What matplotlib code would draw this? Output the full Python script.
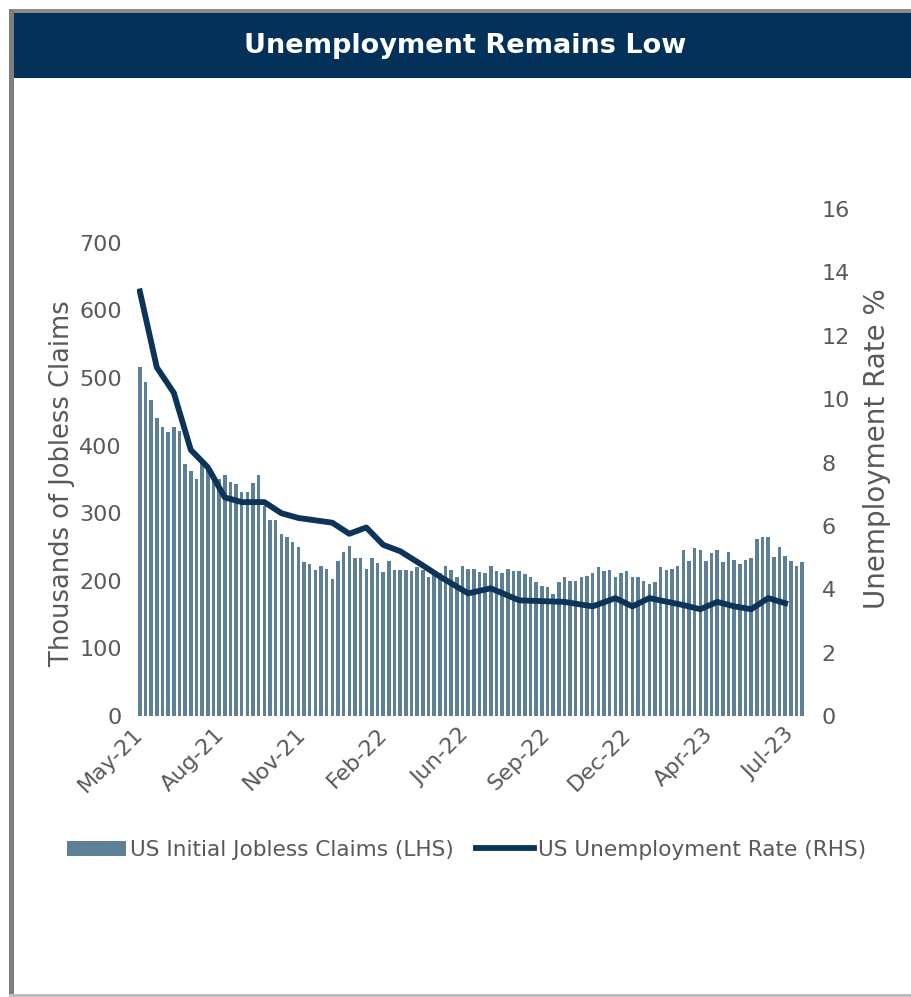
import numpy as np
import matplotlib.pyplot as plt
from matplotlib.patches import Rectangle, Patch
from matplotlib.lines import Line2D

# weekly initial jobless claims (thousands), May-21 .. Jul-23
claims = [517, 494, 468, 441, 428, 420, 428, 422, 373, 362,
          350, 374, 366, 359, 351, 357, 346, 343, 331, 331,
          345, 357, 310, 290, 290, 269, 265, 257, 250, 228,
          225, 216, 222, 218, 202, 229, 243, 251, 233, 233,
          218, 233, 226, 213, 229, 216, 216, 216, 215, 220,
          216, 206, 211, 211, 222, 216, 205, 222, 218, 217,
          213, 212, 222, 215, 212, 218, 215, 215, 210, 206,
          198, 193, 191, 181, 198, 206, 200, 200, 205, 207,
          212, 220, 215, 216, 206, 212, 215, 206, 205, 200,
          195, 198, 220, 216, 217, 222, 246, 230, 248, 246,
          229, 241, 246, 228, 243, 231, 225, 231, 233, 262,
          265, 265, 235, 250, 236, 230, 222, 228]

# unemployment rate (%), position given in weeks from the first bar
rate_week = [0, 3, 6, 9, 12, 15, 18, 22, 25, 28, 34, 37, 40, 43, 46, 50,
             53, 58, 62, 67, 75, 80, 84, 87, 90, 96, 99, 102, 105, 108, 111, 114]
rate = [13.4, 11.0, 10.2, 8.4, 7.85, 6.9, 6.75, 6.75, 6.4, 6.25, 6.1, 5.75,
        5.95, 5.4, 5.2, 4.75, 4.4, 3.87, 4.03, 3.65, 3.6, 3.46, 3.72, 3.46,
        3.72, 3.5, 3.37, 3.6, 3.46, 3.37, 3.72, 3.56]

tick_labels = ['May-21', 'Aug-21', 'Nov-21', 'Feb-22', 'Jun-22',
               'Sep-22', 'Dec-22', 'Apr-23', 'Jul-23']

W, H = 911, 997
bar_color = '#5d8096'
line_color = '#0b3458'
navy = '#04315a'
grey_txt = '#595959'

fig = plt.figure(figsize=(W / 100, H / 100), dpi=100)


def box(x0, y0, x1, y1, color):
    # pixel box (top-left origin) -> figure rectangle
    fig.add_artist(Rectangle((x0 / W, 1 - y1 / H), (x1 - x0) / W, (y1 - y0) / H,
                             transform=fig.transFigure, facecolor=color,
                             edgecolor='none', zorder=0))


# frame + title banner
box(9, 9, 911, 13, '#8a8a8a')
box(9, 9, 14, 997, '#7f7f7f')
box(9, 994, 911, 997, '#bdbdbd')
box(14, 13, 911, 78, navy)
fig.text(465 / W, 1 - 46 / H, 'Unemployment Remains Low', color='white',
         fontsize=19.5, fontweight='bold', ha='center', va='center')

ax = fig.add_axes([137 / W, 1 - 716 / H, 668 / W, 507 / H])
x = np.arange(len(claims))
ax.bar(x, claims, width=0.62, color=bar_color, zorder=2)
ax.set_xlim(-0.5, len(claims) - 0.5)
ax.set_ylim(0, 750)
ax.set_yticks(range(0, 701, 100))

ticks = np.linspace(0, len(claims) - 3, len(tick_labels))
ax.set_xticks(ticks)
ax.set_xticklabels(tick_labels, rotation=45, ha='right', va='center',
                   rotation_mode='anchor')

ax2 = ax.twinx()
ax2.plot(rate_week, rate, color=line_color, lw=4.2, zorder=3)
ax2.set_ylim(0, 16)
ax2.set_yticks(range(0, 17, 2))

for a in (ax, ax2):
    for s in a.spines.values():
        s.set_visible(False)
ax.tick_params(axis='y', length=0, labelsize=16, labelcolor=grey_txt, pad=11)
ax.tick_params(axis='x', length=0, labelsize=16, labelcolor=grey_txt, pad=11)
ax2.tick_params(axis='y', length=0, labelsize=16, labelcolor=grey_txt, pad=12)

fig.text(62 / W, 1 - 483 / H, 'Thousands of Jobless Claims', rotation=90,
         ha='center', va='center', fontsize=18.5, color=grey_txt)
fig.text(877 / W, 1 - 449 / H, 'Unemployment Rate %', rotation=90,
         ha='center', va='center', fontsize=20, color=grey_txt)

handles = [Patch(facecolor=bar_color, label='US Initial Jobless Claims (LHS)'),
           Line2D([], [], color=line_color, lw=4.2, label='US Unemployment Rate (RHS)')]
fig.legend(handles=handles, loc='center', bbox_to_anchor=(467 / W, 1 - 850 / H),
           ncol=2, frameon=False, fontsize=15.6, handlelength=2.7,
           handletextpad=0.2, columnspacing=1.0, labelcolor=grey_txt)

fig.savefig('out.png', dpi=100)
